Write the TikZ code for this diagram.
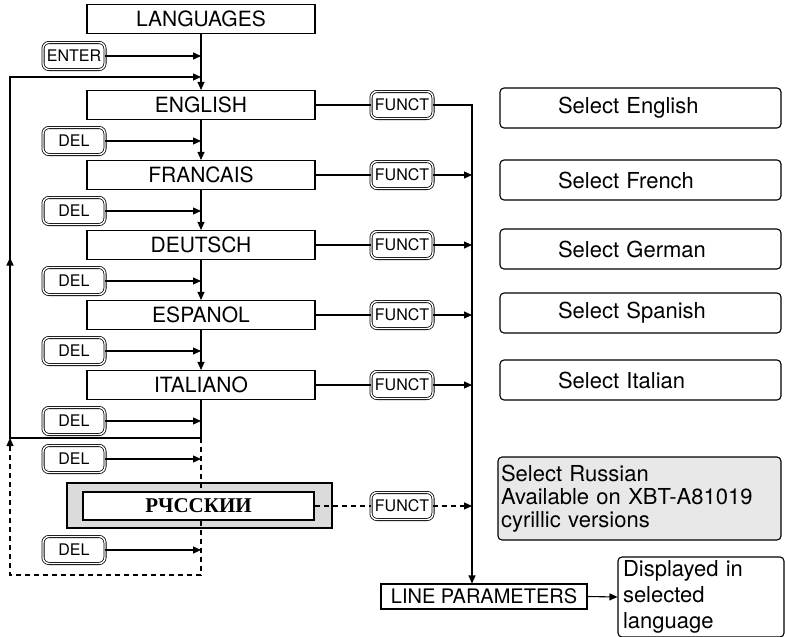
\documentclass[tikz,border=0pt]{standalone}
\usepackage{fontspec}
\setmainfont{TeX Gyre Heros}
\newfontfamily\rufont{Liberation Serif}
\usetikzlibrary{arrows.meta,positioning,calc}

\begin{document}
\begin{tikzpicture}[
  x=1pt, y=-1pt,
  line width=1.1pt,
  arr/.style={-{Triangle[length=8pt,width=7pt]}},
  dashline/.style={dash pattern=on 5pt off 4pt},
  langbox/.style={draw, minimum width=228pt, minimum height=29pt, inner sep=0pt,
    font=\fontsize{21}{24}\selectfont},
  key/.style={draw, double, double distance=1.4pt, line width=0.8pt, rounded corners=6pt,
    minimum width=62pt, minimum height=27pt, inner sep=0pt, font=\fontsize{16}{18}\selectfont},
  selbox/.style={draw, rounded corners=4pt, minimum height=40pt, inner xsep=58pt,
    text width=165pt, align=left, font=\fontsize{22}{23}\selectfont},
]
  \useasboundingbox (0,0) rectangle (785,637);

  \node[langbox] (lang) at (201,19) {LANGUAGES};
  \node[key] (enter) at (74,56) {ENTER};

  % one row per language: entry, its DEL key and its FUNCT key
  \foreach \k/\name/\txt in {0/en/ENGLISH, 1/fr/FRANCAIS, 2/de/DEUTSCH, 3/es/ESPANOL, 4/it/ITALIANO} {
    \node[langbox] (\name) at (201,{105+70*\k}) {\txt};
    \node[key] (del\name) at (74,{141+70*\k}) {DEL};
    \node[key] (fn\name) at (402,{105+70*\k}) {FUNCT};
    \draw (\name.east) -- (fn\name.west);
  }
  \foreach \y/\txt in {108/English, 180/French, 249/German, 313/Spanish, 380/Italian} {
    \node[selbox] (sel\txt) at (640.5,\y) {Select \txt};
  }

  % cyrillic entry (option)
  \node[draw, fill=black!14, minimum width=265pt, minimum height=45pt] (rubg) at (199.5,505.5) {};
  \node[langbox, fill=white, minimum width=231pt, minimum height=28pt,
    font=\rufont\bfseries\fontsize{21}{22}\selectfont] (ru) at (198.5,506) {РЧССКИИ};
  \node[key] (delru) at (74,459) {DEL};
  \node[key] (delrub) at (74,550) {DEL};
  \node[key] (fnru) at (402,506) {FUNCT};
  \node[selbox, fill=black!9, inner xsep=3pt, text width=277pt, minimum height=83pt] (selru)
    at (639.5,498.5) {Select Russian\\Available on XBT-A81019\\cyrillic versions};

  \node[draw, minimum width=206pt, minimum height=25pt, inner sep=0pt,
    font=\fontsize{20}{24}\selectfont] (lp) at (484,596.5) {LINE PARAMETERS};
  \node[draw, rounded corners=4pt, inner xsep=5pt, text width=156pt, align=left,
    minimum height=80pt, font=\fontsize{22}{26}\selectfont] (disp) at (701,597) {Displayed in\\selected\\language};

  % main chain
  \draw[arr] (lang) -- (en);
  \draw[arr] (enter.east) -- (enter.east -| lang.south);
  \foreach \a/\b in {en/fr, fr/de, de/es, es/it} {
    \draw[arr] (\a) -- (\b);
  }
  \foreach \n in {en,fr,de,es,it} {
    \draw[arr] (del\n.east) -- (del\n.east -| en.south);
  }

  % return loop
  \coordinate (loopR) at (201,438);
  \coordinate (loopL) at (10,438);
  \coordinate (loopT) at (10,77);
  \coordinate (loopE) at (201,77);
  \draw[arr] (it.south) -- (loopR) -- (loopL) -- (loopT) -- (loopE);
  \draw[arr] (loopL) -- ($(loopL)!0.5!(loopT)$);

  % dashed loop through the cyrillic entry
  \coordinate (dashR) at (201,575);
  \coordinate (dashL) at (10,575);
  \draw[dashline] (loopR) -- (loopR |- ru.north);
  \draw[dashline, arr] (ru.south -| loopR) -- (dashR) -- (dashL) -- (loopL);
  \draw[arr] (delru.east) -- (delru.east -| loopR);
  \draw[arr] (delrub.east) -- (delrub.east -| loopR);

  % FUNCT spine down to line parameters
  \coordinate (spine) at (472,105);
  \draw[arr] (fnen.east) -- (spine) -- (spine |- lp.north);
  \foreach \n in {fr,de,es,it} {
    \draw[arr] (fn\n.east) -- (fn\n.east -| spine);
  }
  \draw[dashline] (ru.east) -- (fnru.west);
  \draw[dashline, arr] (fnru.east) -- (fnru.east -| spine);
  \draw[arr] (lp.east) -- (disp.west);
\end{tikzpicture}
\end{document}
